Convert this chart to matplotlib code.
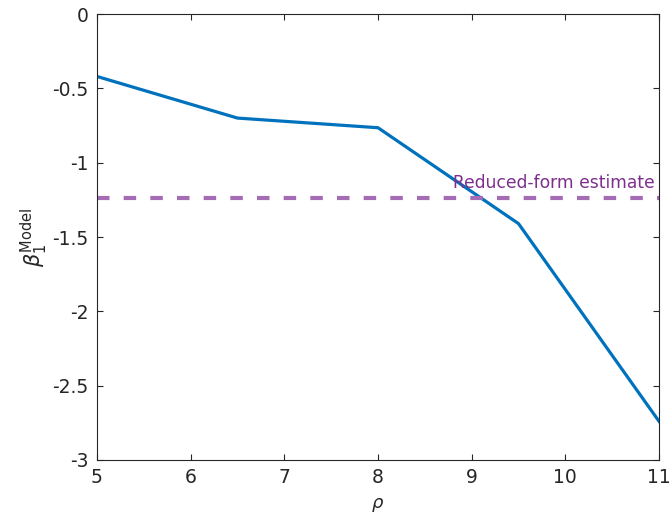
import matplotlib
matplotlib.use("Agg")
import matplotlib.pyplot as plt

rho = [5, 6.5, 8, 9.5, 11]
beta_model = [-0.42, -0.70, -0.765, -1.41, -2.74]
reduced_form = -1.235
xticks = [5, 6, 7, 8, 9, 10, 11]
yticks = [0, -0.5, -1, -1.5, -2, -2.5, -3]
ytick_labels = ["0", "-0.5", "-1", "-1.5", "-2", "-2.5", "-3"]

plt.rcParams["font.family"] = "DejaVu Sans"
fig = plt.figure(figsize=(6.72, 5.15), dpi=100)
ax = fig.add_axes([0.1443, 0.1068, 0.8364, 0.866])

ax.plot(rho, beta_model, color="#0072BD", lw=2.3)
ax.axhline(reduced_form, color="#A66BB5", lw=3, ls=(0, (3, 3.4)))
ax.text(10.95, reduced_form + 0.035, "Reduced-form estimate", color="#7E2F8E",
        ha="right", va="bottom", fontsize=12.3)

ax.set_xlim(5, 11)
ax.set_ylim(-3, 0)
ax.set_xticks(xticks)
ax.set_yticks(yticks)
ax.set_yticklabels(ytick_labels)
ax.tick_params(direction="in", top=True, right=True, labelsize=13.5, colors="#262626",
               length=4, pad=6)
for s in ax.spines.values():
    s.set_color("#262626")
    s.set_linewidth(0.8)
ax.set_xlabel(r"$\rho$", fontsize=13, color="#262626", labelpad=6)
ax.set_ylabel(r"$\beta_1^{\mathrm{Model}}$", fontsize=15, color="#262626", labelpad=2)

fig.savefig("out.png", dpi=100)
